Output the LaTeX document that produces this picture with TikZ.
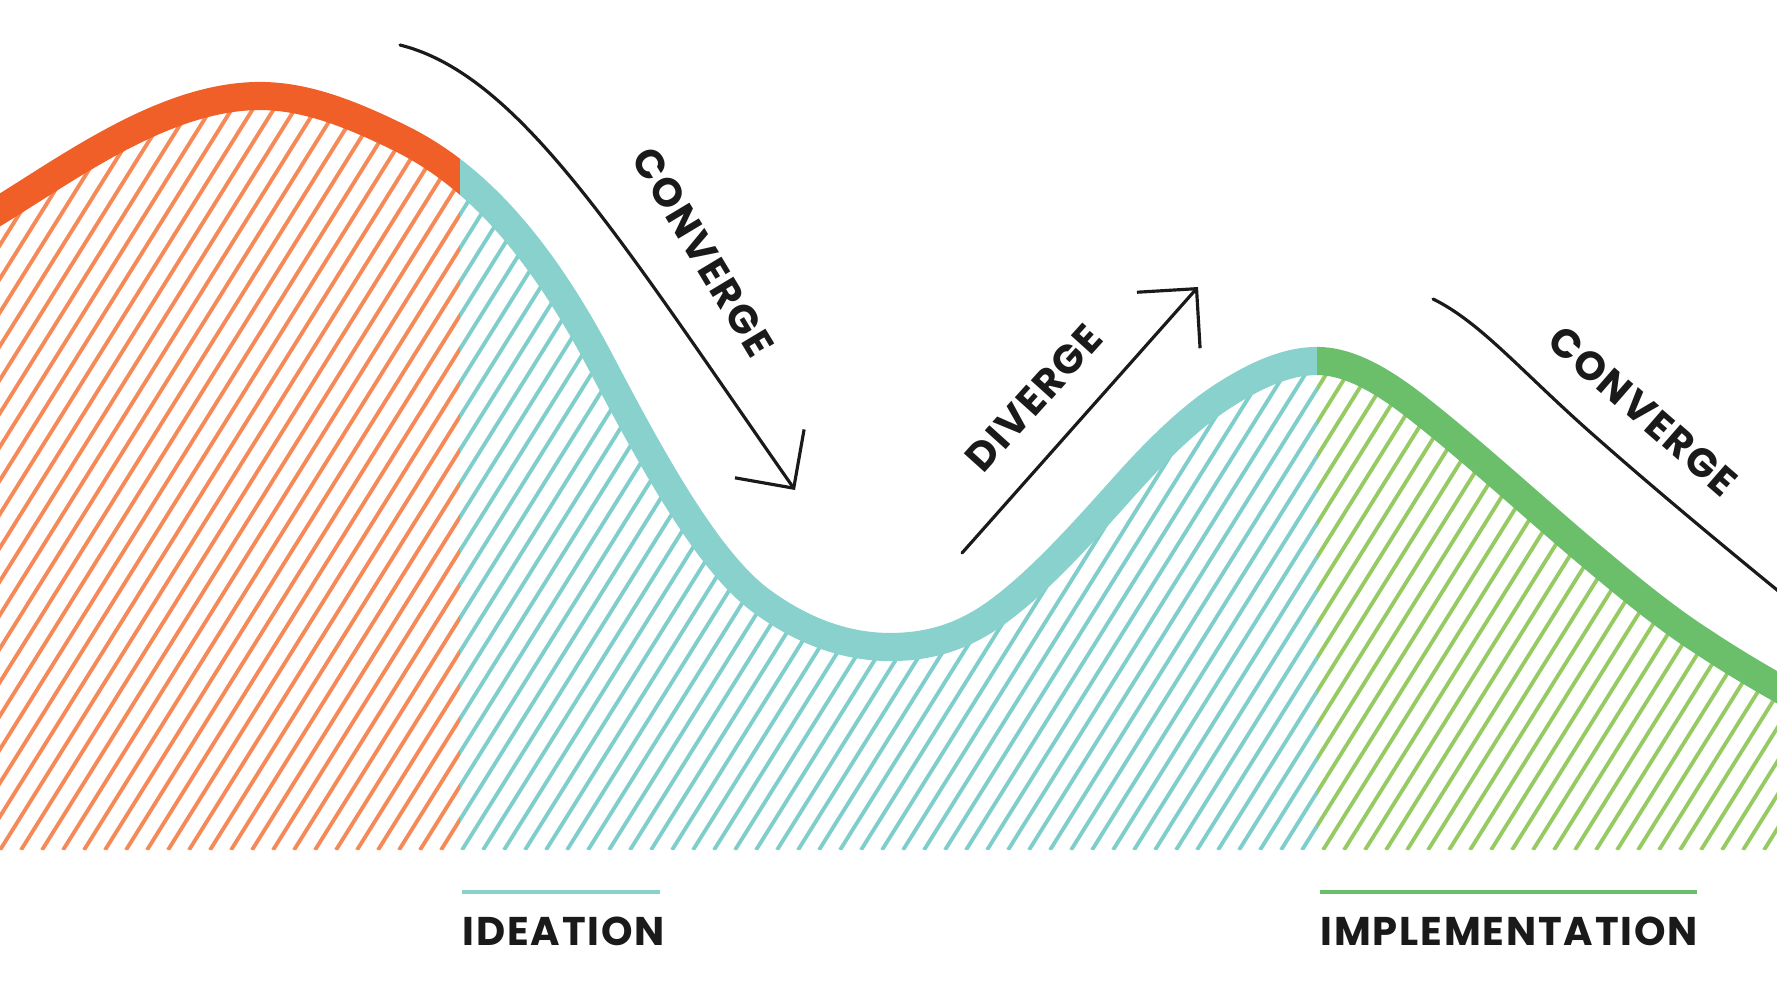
\documentclass[tikz,border=0pt]{standalone}
\usepackage{fontspec}
\newfontfamily\nhanfont{Poppins}[LetterSpace=4.5]
\usetikzlibrary{arrows.meta}

\definecolor{camDam}{HTML}{F15F28}
\definecolor{camNhat}{HTML}{F58A58}
\definecolor{xanhNgoc}{HTML}{88D1CD}
\definecolor{xanhSoc}{HTML}{80CECB}
\definecolor{laDam}{HTML}{6BBF6B}
\definecolor{laSoc}{HTML}{96CB64}
\definecolor{chuDen}{HTML}{1A1A1A}

\tikzset{
  nhan/.style={inner sep=0pt, text=chuDen, font={\nhanfont\bfseries\fontsize{11.4pt}{12pt}\selectfont}},
  soc/.style={line width=1.1pt, line cap=butt},
  dai/.style={line width=8pt, line cap=butt},
  muiten/.style={line width=0.9pt, chuDen}
}

\newcommand\duongsong{(-20,222) .. controls (60,175) and (160,96) .. (260,96)
  .. controls (307,96) and (353,115) .. (400,138)
  .. controls (467,171) and (533,234) .. (600,361)
  .. controls (653,462) and (707,560) .. (760,600)
  .. controls (803,632) and (847,647) .. (890,647)
  .. controls (927,647) and (963,638) .. (1000,610)
  .. controls (1043,578) and (1087,528) .. (1130,480)
  .. controls (1160,447) and (1190,418) .. (1220,398)
  .. controls (1252,377) and (1285,361) .. (1317,361)
  .. controls (1351,361) and (1386,383) .. (1420,410)
  .. controls (1477,455) and (1533,507) .. (1590,555)
  .. controls (1627,586) and (1663,616) .. (1700,640)
  .. controls (1733,662) and (1767,682) .. (1800,700)}

\begin{document}
\begin{tikzpicture}[x=0.01cm, y=-0.01cm, >={Straight Barb[length=12pt,width=24pt]}, line join=round]
			\useasboundingbox (0,0) rectangle (1777,1000);
			\clip (0,0) rectangle (1777,1000);
			
			% --- Vùng gạch chéo ---
			\foreach \a/\b/\c in {-50/460/camNhat, 460/1317/xanhSoc, 1317/1850/laSoc} {
				\begin{scope}
					\clip (\a,-50) rectangle (\b,850);
					\clip \duongsong -- (1850,850) -- (-50,850) -- cycle;
					\foreach \i in {-27,...,86}
						\draw[soc, \c] (\i*21,850) -- ++(531,-850);
				\end{scope}
			}
			
			% --- Đường cong ba màu ---
			\foreach \a/\b/\c in {-50/460/camDam, 460/1317/xanhNgoc, 1317/1850/laDam} {
				\begin{scope}
					\clip (\a,-50) rectangle (\b,1000);
					\draw[dai, \c] \duongsong;
				\end{scope}
			}
			
			% --- Mũi tên ---
			\coordinate (hoi1) at (400,45);
			\coordinate (hoi1b) at (795,490);
			\coordinate (phan) at (962,553);
			\coordinate (phanb) at (1198,287);
			\coordinate (hoi2) at (1433,299);
			\coordinate (hoi2b) at (1820,625);
			
			\draw[->, muiten, line cap=round] (hoi1) .. controls (520,75) and (620,240) .. (hoi1b);
			\draw[->, muiten, line cap=round] (phan) -- (phanb);
			\draw[muiten, line cap=round] (hoi2) .. controls (1480,322) and (1520,370) .. (1590,432)
				.. controls (1660,494) and (1740,560) .. (hoi2b);
			
			\node[nhan, rotate=-59] (chuHoi1) at (703,252) {CONVERGE};
			\node[nhan, rotate=48] (chuPhan) at (1034,398) {DIVERGE};
			\node[nhan, rotate=-41] (chuHoi2) at (1643,411) {CONVERGE};
			
			% --- Nhãn giai đoạn ---
			\draw[xanhNgoc, line width=1.4pt] (462,892) -- (660,892);
			\draw[laDam, line width=1.4pt] (1320,892) -- (1697,892);
			\node[nhan, anchor=base west] (ideation) at (462,945) {IDEATION};
			\node[nhan, anchor=base west] (implement) at (1320,945) {IMPLEMENTATION};
	\end{tikzpicture}
\end{document}
